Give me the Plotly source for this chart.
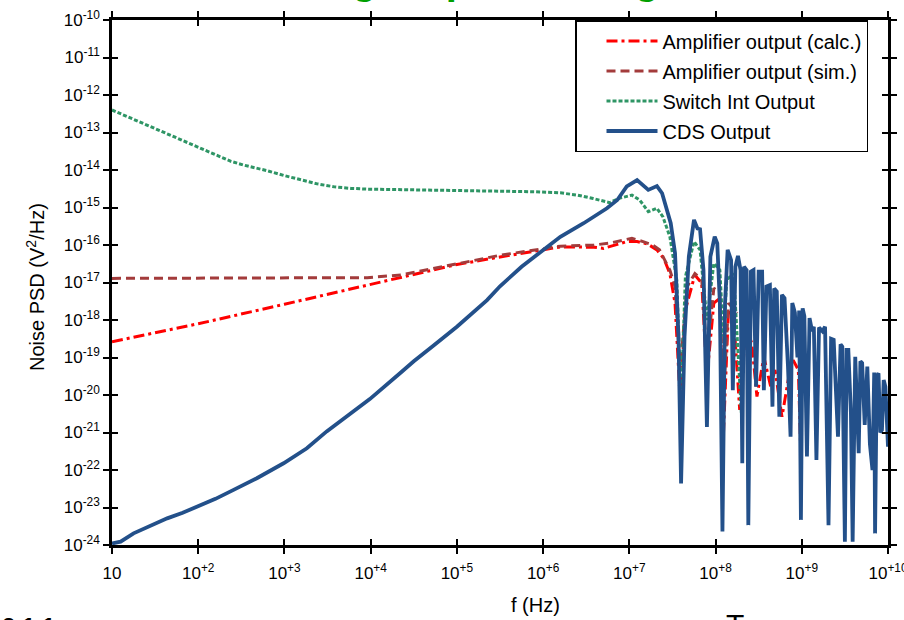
import numpy as np
import plotly.graph_objects as go

# ---------------- data (log10 values) ----------------
# Amplifier output (calc.)
red_lf = [1.0, 2.0, 3.0, 4.0, 4.5, 5.0, 5.5, 6.2, 6.59, 6.70, 6.97, 7.09, 7.21, 7.32, 7.40,
          7.47, 7.53, 7.59, 7.65, 7.76, 7.84, 7.90, 7.98, 8.05, 8.09, 8.15, 8.21, 8.28,
          8.35, 8.42, 8.48, 8.56, 8.64, 8.69, 8.77, 8.85, 8.90, 8.96, 8.99]
red_lp = [-18.58, -18.10, -17.58, -17.04, -16.78, -16.52, -16.32, -16.05, -16.06, -16.09,
          -15.91, -15.91, -15.97, -16.13, -16.36, -16.76, -17.55, -20.13, -17.73, -16.80,
          -17.02, -19.51, -17.55, -17.42, -21.11, -17.73, -17.91, -20.40, -18.18, -18.62,
          -20.04, -18.98, -19.78, -19.33, -20.58, -19.51, -19.07, -19.33, -21.64]

# Amplifier output (sim.)
brown_lf = [1.0, 3.58, 3.96, 4.35, 4.73, 5.12, 5.51, 6.2, 6.59, 6.77, 7.03, 7.16, 7.27, 7.35,
            7.47, 7.53, 7.59, 7.67, 7.76, 7.84, 7.90, 7.98, 8.05, 8.09, 8.15, 8.25]
brown_lp = [-16.89, -16.89, -16.87, -16.80, -16.62, -16.44, -16.27, -16.03, -16.00, -15.95,
            -15.82, -15.91, -16.00, -16.13, -16.67, -17.11, -19.33, -17.11, -16.76, -16.93,
            -18.98, -17.15, -17.29, -20.22, -17.55, -17.82]

# Switch Int Output
green_lf = [1.0, 1.12, 1.25, 1.44, 1.63, 1.80, 1.95, 2.10, 2.22, 2.38, 2.53, 2.66, 2.80,
            3.00, 3.19, 3.38, 3.58, 3.77, 3.96, 4.30, 4.73, 5.10, 5.50, 5.90, 6.20, 6.40,
            6.58, 6.77, 6.89, 7.03, 7.12, 7.22, 7.32, 7.39, 7.47, 7.55, 7.60, 7.65, 7.75,
            7.82, 7.90, 7.98, 8.05, 8.09, 8.13, 8.21, 8.30]
green_lp = [-12.40, -12.52, -12.65, -12.84, -13.02, -13.18, -13.33, -13.49, -13.62, -13.77,
            -13.87, -13.94, -14.02, -14.15, -14.27, -14.37, -14.45, -14.49, -14.51, -14.52,
            -14.53, -14.55, -14.56, -14.58, -14.61, -14.67, -14.76, -14.87, -14.75, -14.67,
            -14.80, -15.11, -15.02, -15.25, -15.78, -16.93, -20.20, -16.85, -15.91, -16.13,
            -18.00, -16.49, -16.67, -18.44, -16.93, -16.76, -20.49]

# CDS Output
blue_lf = [1.0, 1.10, 1.25, 1.45, 1.64, 1.82, 1.99, 2.20, 2.41, 2.68, 2.99, 3.26, 3.49,
           3.70, 3.99, 4.34, 4.50, 4.73, 5.0, 5.35, 5.5, 5.75, 6.0, 6.2, 6.47, 6.74, 6.86,
           6.97, 7.09, 7.22, 7.32, 7.38, 7.48, 7.53, 7.57, 7.60, 7.64, 7.69, 7.75, 7.79,
           7.82, 7.86, 7.90, 7.94, 7.99, 8.02, 8.05, 8.08, 8.11, 8.14, 8.18, 8.20, 8.23,
           8.26, 8.29, 8.31, 8.33, 8.36, 8.38, 8.41, 8.44, 8.47, 8.50, 8.54, 8.56, 8.59,
           8.63, 8.66, 8.68, 8.71, 8.74, 8.77, 8.80, 8.84, 8.87, 8.89, 8.92, 8.95, 8.97,
           8.99, 9.01, 9.03, 9.06, 9.09, 9.12, 9.14, 9.17, 9.20, 9.24, 9.27, 9.31, 9.34,
           9.37, 9.42, 9.45, 9.47, 9.50, 9.52, 9.54, 9.57, 9.59, 9.61, 9.62, 9.66, 9.68,
           9.70, 9.73, 9.76, 9.79, 9.82, 9.84, 9.85, 9.87, 9.89, 9.91, 9.93, 9.95, 9.97, 10.0]
blue_lp = [-23.96, -23.91, -23.69, -23.48, -23.29, -23.14, -22.98, -22.77, -22.53, -22.22,
           -21.82, -21.42, -20.97, -20.60, -20.11, -19.42, -19.10, -18.68, -18.18, -17.47,
           -17.10, -16.58, -16.13, -15.78, -15.42, -15.02, -14.80, -14.44, -14.27, -14.53,
           -14.43, -14.62, -15.42, -16.22, -18.44, -22.36, -18.44, -16.31, -15.33, -15.56,
           -15.58, -16.67, -20.85, -16.31, -15.78, -15.96, -17.55, -23.64, -17.55, -16.13,
           -16.40, -19.87, -16.58, -16.29, -16.67, -21.82, -16.58, -16.67, -23.47, -16.71,
           -16.67, -19.78, -16.71, -16.71, -19.87, -17.11, -17.07, -20.31, -17.16, -17.24,
           -20.58, -17.33, -17.42, -19.24, -21.11, -17.55, -17.80, -19.00, -17.75, -23.33,
           -17.69, -17.90, -21.64, -17.95, -18.30, -18.18, -21.73, -18.20, -18.30, -18.18,
           -23.47, -18.50, -18.53, -21.11, -18.65, -18.71, -23.91, -18.80, -18.80, -20.50,
           -23.91, -19.00, -18.98, -21.55, -19.10, -19.15, -20.80, -19.24, -21.30, -22.00,
           -19.40, -23.69, -19.50, -19.42, -21.00, -20.93, -19.60, -19.78, -21.38]

x_tick_exp = [1, 2, 3, 4, 5, 6, 7, 8, 9, 10]
x_tick_text = ["10"] + ["10<sup>+%d</sup>" % e for e in x_tick_exp[1:]]
y_tick_exp = list(range(-10, -25, -1))
y_tick_text = ["10<sup>%d</sup>" % e for e in y_tick_exp]

series_names = ["Amplifier output (calc.)", "Amplifier output (sim.)",
                "Switch Int Output", "CDS Output"]

# ---------------- figure ----------------
W, H = 904, 620
L, R, T, B = 112, 16, 20, 75
pw, ph = W - L - R, H - T - B
def px(xp):
    return (xp - L) / pw
def py(yp):
    return (H - B - yp) / ph

FONT = "Arial, Liberation Sans, sans-serif"

def tr(lf, lp, name, color, width, dash, grp):
    return go.Scatter(x=np.power(10.0, lf), y=np.power(10.0, lp), mode="lines", name=name,
                      legendgroup=grp,
                      line=dict(color=color, width=width, dash=dash))

fig = go.Figure()
fig.add_trace(tr(red_lf, red_lp, series_names[0], "#ff0000", 3, "11px,4px,3px,4px", "a"))
fig.add_trace(tr(brown_lf, brown_lp, series_names[1], "#a33b3b", 3, "9px,5px", "b"))
fig.add_trace(tr(green_lf, green_lp, series_names[2], "#2e9565", 3, "4px,2px", "c"))
fig.add_trace(tr(blue_lf, blue_lp, series_names[3], "#23508a", 3.8, "solid", "d"))
fig.add_trace(go.Scatter(x=[10, 1e10], y=[1e-24, 1e-10], xaxis="x2", yaxis="y2",
                         mode="lines", line=dict(width=0), opacity=0,
                         showlegend=False, hoverinfo="skip"))

xt = [10.0 ** e for e in x_tick_exp]
yt = [10.0 ** e for e in y_tick_exp]

common = dict(showgrid=False, zeroline=False, tickcolor="black", tickwidth=2, ticklen=6)
fig.update_layout(
    width=W, height=H, margin=dict(l=L, r=R, t=T, b=B, autoexpand=False),
    paper_bgcolor="white", plot_bgcolor="white",
    font=dict(family=FONT, size=17, color="black"),
    xaxis=dict(type="log", range=[1, 10], showline=True, linecolor="black", linewidth=2.5,
               ticks="outside", mirror="allticks", tickvals=xt, ticktext=x_tick_text,
               tickfont=dict(size=17), ticklabeloverflow="allow", ticklabelstandoff=5,
               **common),
    yaxis=dict(type="log", range=[-24, -10], showline=True, linecolor="black", linewidth=2.5,
               ticks="outside", mirror="allticks", tickvals=yt, ticktext=y_tick_text,
               tickfont=dict(size=17), ticklabeloverflow="allow", **common),
    xaxis2=dict(type="log", range=[1, 10], overlaying="x", anchor="y", side="bottom",
                ticks="inside", mirror="allticks", tickvals=xt, showticklabels=False,
                showline=False, **common),
    yaxis2=dict(type="log", range=[-24, -10], overlaying="y", anchor="x", side="left",
                ticks="inside", mirror="allticks", tickvals=yt, showticklabels=False,
                showline=False, **common),
    legend=dict(x=px(575), y=py(20), xanchor="left", yanchor="top",
                bordercolor="black", borderwidth=1.5, bgcolor="white",
                font=dict(size=20, family=FONT), tracegroupgap=1, traceorder="grouped",
                indentation=25, itemwidth=51),
    showlegend=True,
)

ann = [
    dict(text="Noise PSD (V<sup>2</sup>/Hz)", x=px(35), y=py(287), textangle=-90,
         font=dict(size=20)),
    dict(text="f (Hz)", x=px(535), y=py(605), font=dict(size=20)),
    dict(text="<b>signal processing</b>", x=px(317), y=py(4), xanchor="left",
         yanchor="bottom", font=dict(size=40, color="#00a000")),
    dict(text="<b>2.1.1</b>", x=px(0), y=py(611), xanchor="left", yanchor="top",
         font=dict(size=24)),
    dict(text="T", x=px(724), y=py(606), xanchor="left", yanchor="top",
         font=dict(size=30)),
]
for a in ann:
    a.setdefault("xanchor", "center")
    a.setdefault("yanchor", "middle")
    fig.add_annotation(xref="paper", yref="paper", showarrow=False, **a)

fig.write_html("out.html", config={"displayModeBar": False},
               post_script="document.body.style.margin='0';document.body.style.overflow='hidden';")
